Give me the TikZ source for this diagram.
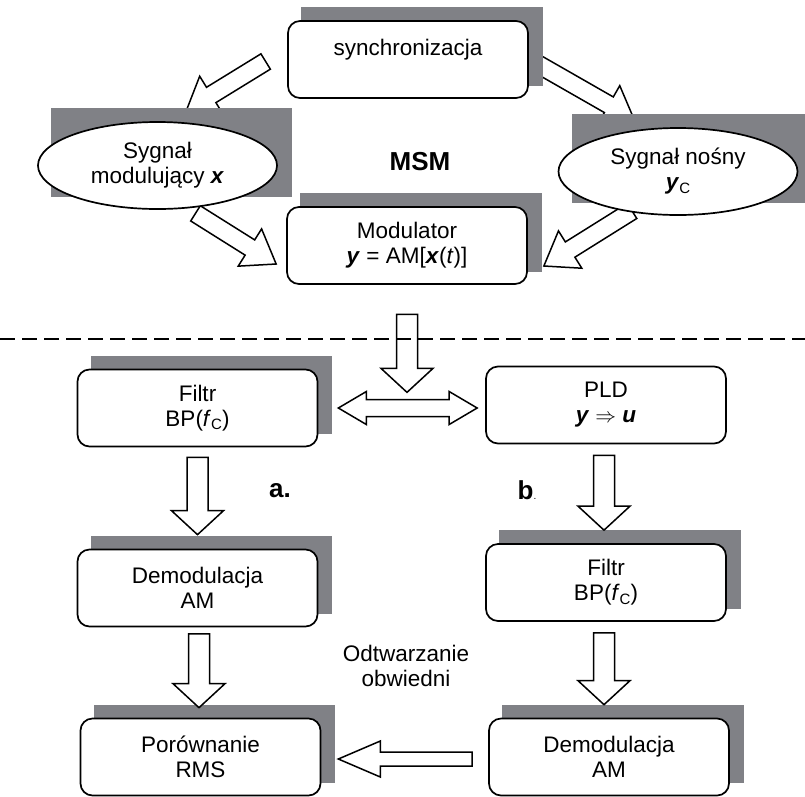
\documentclass[tikz,border=0pt]{standalone}
\usepackage{fontspec}
\setmainfont{Liberation Sans}
\usetikzlibrary{calc,shapes.geometric}
\definecolor{shadowgray}{RGB}{128,129,134}
\pgfdeclarelayer{arrowlayer}
\pgfdeclarelayer{shadowlayer}
\pgfsetlayers{arrowlayer,shadowlayer,main}
\newcommand{\subC}{\raisebox{-0.3ex}{\fontsize{15}{15}\selectfont C}}
\newcommand{\bi}[1]{\textbf{\textit{#1}}}
% block arrow: shaft half width, head half width, head length, from, to
\newcommand{\blockarrow}[5]{%
  \path (#4) coordinate (ba-s) (#5) coordinate (ba-t);
  \path ($(ba-t)!#3!(ba-s)$) coordinate (ba-h);
  \draw[arrowbody] ($(ba-s)!#1!90:(ba-t)$) -- ($(ba-h)!#1!-90:(ba-s)$)
    -- ($(ba-h)!#2!-90:(ba-s)$) -- (ba-t) -- ($(ba-h)!#2!90:(ba-s)$)
    -- ($(ba-h)!#1!90:(ba-s)$) -- ($(ba-s)!#1!-90:(ba-t)$) -- cycle;
}
\tikzset{
  block/.style={draw, line width=1.7pt, rounded corners=12pt, fill=white,
    minimum width=240pt, minimum height=77pt, align=center, inner sep=2pt},
  oval/.style={draw, ellipse, line width=1.7pt, fill=white,
    minimum width=239pt, minimum height=87pt, align=center, inner sep=0pt},
  arrowbody/.style={draw, line width=1.5pt, fill=white, line join=miter},
  bold label/.style={font=\fontsize{26}{28}\selectfont\bfseries},
}

\begin{document}
\begin{tikzpicture}[x=1pt,y=-1pt,font=\fontsize{22.5}{25}\selectfont]
    \useasboundingbox (0,0) rectangle (805,796);

    % upper part: synchronisation and modulator
    \node[block] (sync) at (408,59.5) {synchronizacja\\\mbox{}};
    \node[oval] (modl) at (157.5,165.5) {Sygnał\\modulujący \bi{x}};
    \node[oval] (nosny) at (678,171.5) {Sygnał nośny\\\bi{y}\subC};
    \node[block] (modul) at (407,245.5) {Modulator\\\bi{y} = AM[\bi{x}(\textit{t})]};
    \node[bold label] (msm) at (420,162) {MSM};

    % lower part: two ways of demodulation
    \node[block] (filtl) at (197.5,408) {Filtr\\BP(\textit{f}\subC)};
    \node[block] (pld) at (606,405) {PLD\\\bi{y} $\Rightarrow$ \bi{u}};
    \node[block] (filtr) at (606,582.5) {Filtr\\BP(\textit{f}\subC)};
    \node[block] (demodl) at (197.5,588) {Demodulacja\\AM};
    \node[block] (demodr) at (609,757) {Demodulacja\\AM};
    \node[block] (porown) at (200.5,757) {Porównanie\\RMS};
    \node[bold label] (laba) at (280,491) {a.};
    \node[bold label] (labb) at (527,490) {b{\mdseries\fontsize{10}{10}\selectfont.}};
    \node[align=center] (odtw) at (406,666) {Odtwarzanie\\obwiedni};

    % shadows
    \begin{pgfonlayer}{shadowlayer}
    \foreach \n in {sync,modl,nosny,modul,filtl,filtr,demodl,demodr,porown}
      \fill[shadowgray] ($(\n.west |- \n.north)+(14,-13)$) rectangle ($(\n.east |- \n.south)+(14,-13)$);
    \end{pgfonlayer}

    % slanted arrows, half hidden behind the nodes
    \begin{pgfonlayer}{arrowlayer}
    \blockarrow{9pt}{22pt}{29pt}{$(sync.west)+(-21.5,2)$}{$(modl.north)+(29,-11)$}
    \blockarrow{9pt}{22pt}{29pt}{$(sync.east)+(7,3.5)$}{$(nosny.north)+(-44,-8)$}
    \blockarrow{9pt}{22pt}{31pt}{$(modl.south)+(38,3.5)$}{$(modul.west)+(-10,18.5)$}
    \blockarrow{9pt}{22pt}{31pt}{$(nosny.south)+(-46,-5)$}{$(modul.east)+(16,20.5)$}
    \end{pgfonlayer}

    % straight arrows
    \blockarrow{10.5pt}{26pt}{24pt}{$(modul.south)+(0,29.5)$}{$(modul.south)+(0,107.5)$}
    \blockarrow{10.5pt}{26pt}{24pt}{$(filtl.south)+(0,10)$}{$(demodl.north)+(0,-14)$}
    \blockarrow{10.5pt}{26pt}{24pt}{$(demodl.south)+(1.5,6.5)$}{$(porown.north)+(-1.5,-10)$}
    \blockarrow{10.5pt}{26pt}{24pt}{$(pld.south)+(-2,11)$}{$(filtr.north)+(-2,-13)$}
    \blockarrow{10.5pt}{26pt}{24pt}{$(filtr.south)+(-2,11)$}{$(demodr.north)+(-5,-13)$}
    \blockarrow{7pt}{18pt}{42pt}{$(demodr.west)+(-16,2)$}{$(porown.east)+(17,2)$}

    % double arrow between the filter and PLD
    \coordinate (dl) at ($(filtl.east)+(20,0)$);
    \coordinate (dr) at ($(pld.west |- filtl.east)+(-8,0)$);
    \draw[arrowbody] (dl) -- ++(28,-16.5) -- ++(0,8) -- ($(dr)+(-28,-8.5)$) -- ++(0,-8)
      -- (dr) -- ++(-28,16.5) -- ++(0,-8) -- ($(dl)+(28,8.5)$) -- ++(0,8) -- cycle;

    % border between transmitter and receiver
    \draw[line width=1.7pt, dash pattern=on 15pt off 7pt] (0,339) -- (805,339);
\end{tikzpicture}
\end{document}
